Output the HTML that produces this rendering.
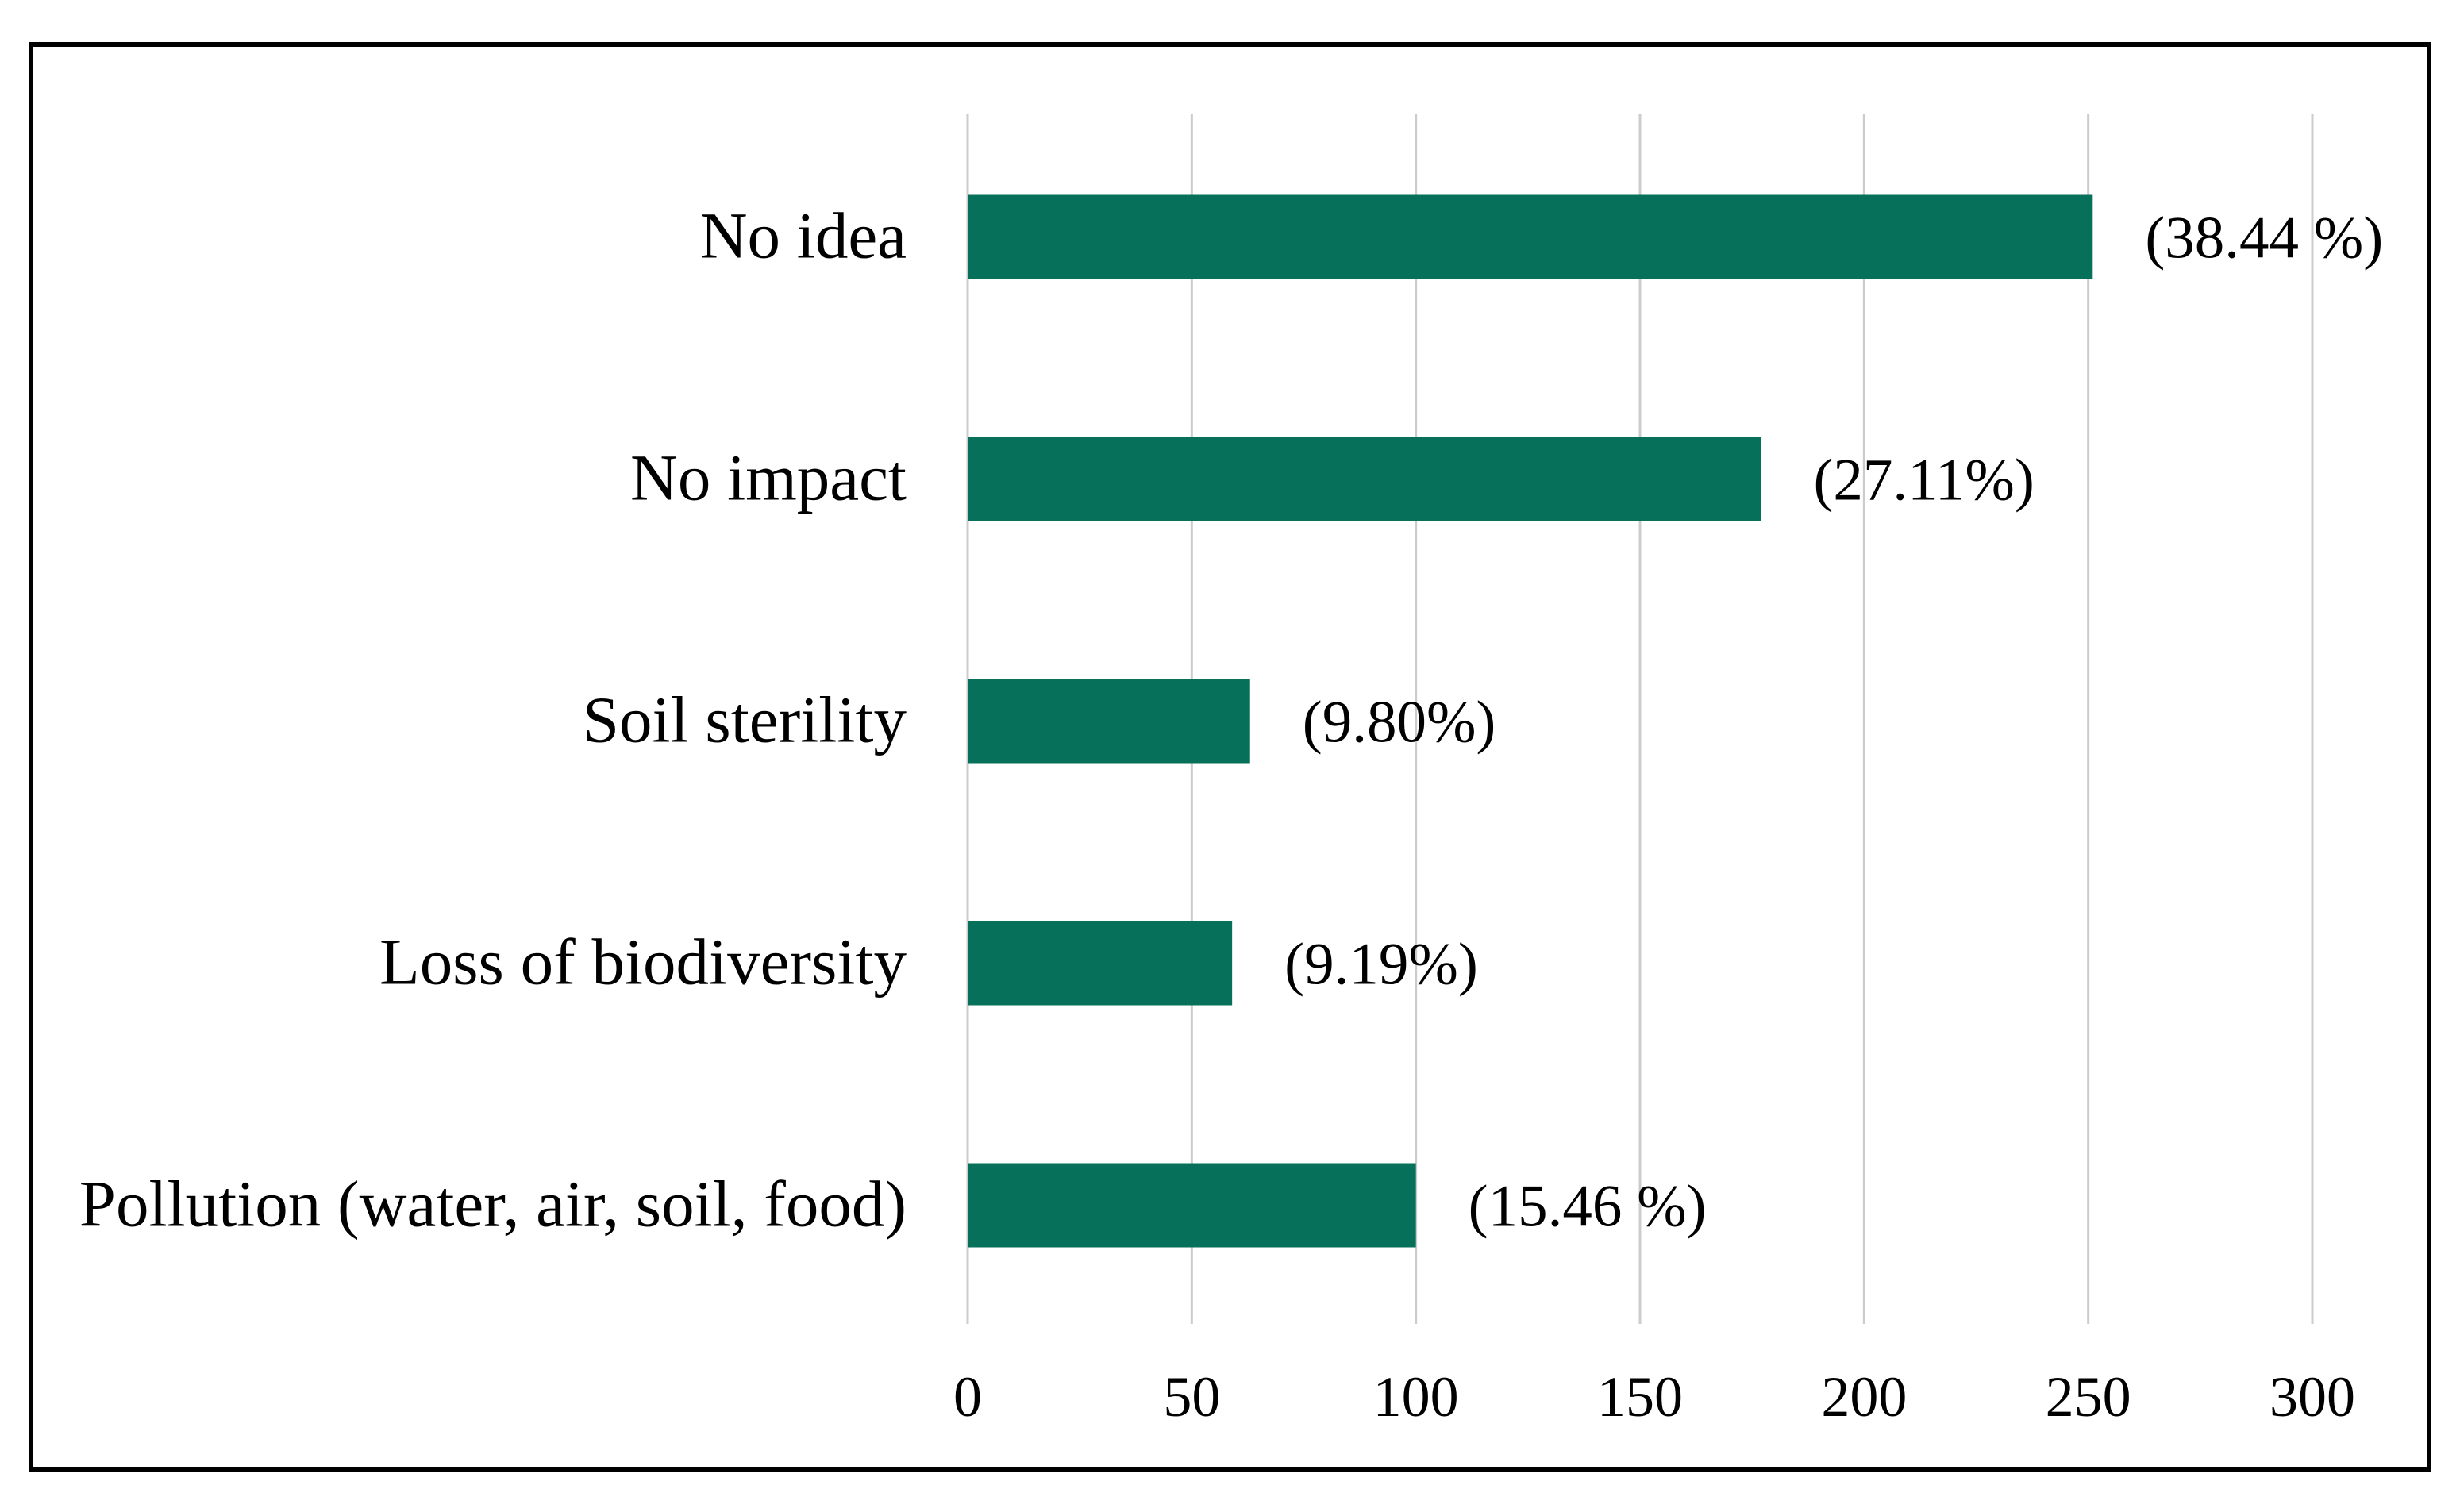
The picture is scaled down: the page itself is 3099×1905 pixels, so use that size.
<!DOCTYPE html>
<html><head><meta charset="utf-8"><style>
html,body{margin:0;padding:0;background:#fff;}
svg{display:block;font-family:"Liberation Serif",serif;}
</style></head><body>
<svg id="chart" width="3099" height="1905" viewBox="0 0 3099 1905" xmlns="http://www.w3.org/2000/svg">
<rect x="39" y="56" width="3021" height="1795" fill="#fff" stroke="#000" stroke-width="6"/>
<g id="grid"></g><g id="bars"></g><g id="labels"></g>
</svg>
<script>
const categories = ["No idea","No impact","Soil sterility","Loss of biodiversity","Pollution (water, air, soil, food)"];
const values = [251, 177, 63, 59, 100];
const valueLabels = ["(38.44 %)","(27.11%)","(9.80%)","(9.19%)","(15.46 %)"];
const ticks = [0,50,100,150,200,250,300];
const NS="http://www.w3.org/2000/svg";
const x0=1219, x1=2913, xmax=300;
const xs=v=>x0+(x1-x0)*v/xmax;
const rowTop=146, rowH=305, barH=106;
const yc=i=>rowTop+rowH*(i+0.5);
function mk(tag,attrs,parent){const e=document.createElementNS(NS,tag);for(const k in attrs)e.setAttribute(k,attrs[k]);document.getElementById(parent).appendChild(e);return e;}
ticks.forEach(t=>{
  const l=mk('line',{x1:xs(t),x2:xs(t),y1:144,y2:1668,stroke:'#cccccc','stroke-width':3},'grid');
  
  
  const tx=mk('text',{x:xs(t),y:1784,'font-size':72,'text-anchor':'middle',fill:'#000'},'labels');
  tx.textContent=t;
  
  
});
categories.forEach((c,i)=>{
  const b=mk('rect',{x:x0,y:yc(i)-barH/2,width:xs(values[i])-x0,height:barH,fill:'#06705a'},'bars');
  
  
  const cl=mk('text',{x:1142,y:yc(i)+26,'font-size':83,'text-anchor':'end',fill:'#000'},'labels');
  cl.textContent=c;
  
  
  const vl=mk('text',{x:xs(values[i])+66,y:yc(i)+26,'font-size':75,fill:'#000'},'labels');
  vl.textContent=valueLabels[i];
  
  
});
</script>
</body></html>
